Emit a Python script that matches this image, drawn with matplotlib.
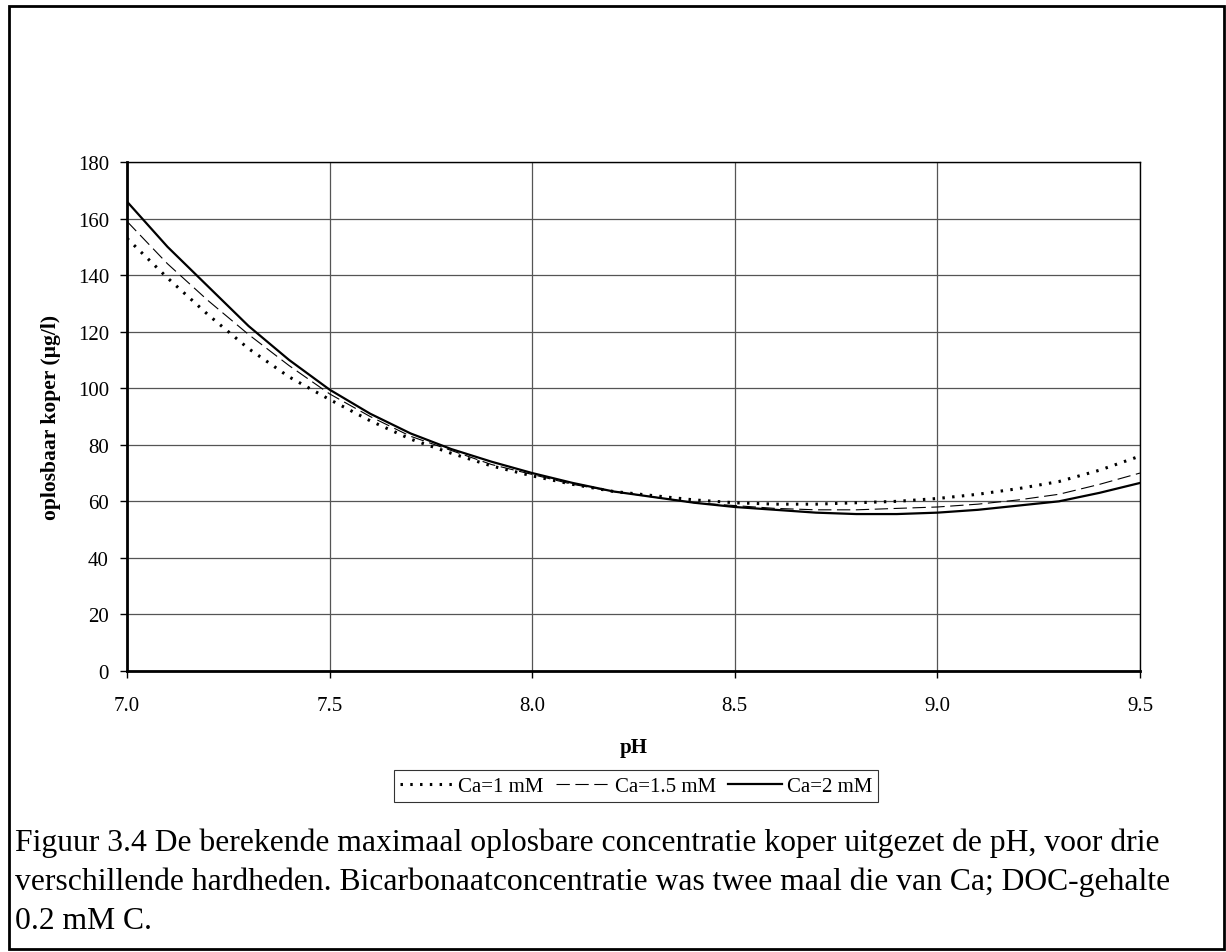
import matplotlib
matplotlib.use("Agg")
import matplotlib.pyplot as plt
from matplotlib.patches import Rectangle

plt.rcParams['font.family'] = ['Liberation Serif', 'DejaVu Serif']

# pH values and dissolved copper (ug/l) for the three hardness levels
ph = [7.0, 7.1, 7.2, 7.3, 7.4, 7.5, 7.6, 7.7, 7.8, 7.9, 8.0, 8.1, 8.2,
      8.3, 8.4, 8.5, 8.6, 8.7, 8.8, 8.9, 9.0, 9.1, 9.2, 9.3, 9.4, 9.5]
ca_1 = [153, 139, 126, 114, 104, 96, 88.5, 82, 77, 72.5, 69, 66, 63.5,
        62, 60.5, 59.5, 59, 59, 59.5, 60, 61, 62.5, 64.5, 67, 71, 76]
ca_15 = [159, 144, 131, 119, 108, 98, 90, 83, 78, 73, 69.5, 66, 63.5,
         61.5, 59.5, 58.5, 57.5, 57, 57, 57.5, 58, 59, 60.5, 62.5, 66, 70]
ca_2 = [166, 150, 136, 122, 110, 99.5, 91, 84, 78.5, 74, 70, 66.5, 63.5,
        61.5, 59.5, 58, 57, 56, 55.5, 55.5, 56, 57, 58.5, 60, 63, 66.5]

labels = ['Ca=1 mM', 'Ca=1.5 mM', 'Ca=2 mM']
x_ticks = [7.0, 7.5, 8.0, 8.5, 9.0, 9.5]
y_ticks = [0, 20, 40, 60, 80, 100, 120, 140, 160, 180]

W, H = 1226, 953
fig = plt.figure(figsize=(W / 100, H / 100), dpi=100)

# plot area in pixel terms
left, right, top, bottom = 127, 1140, 163, 672
ax = fig.add_axes([left / W, 1 - bottom / H, (right - left) / W, (bottom - top) / H])

ax.plot(ph, ca_1, color='black', lw=2.2, linestyle=(0, (0.8, 2.4)), label=labels[0])
ax.plot(ph, ca_15, color='black', lw=0.8, linestyle=(0, (12, 5)), label=labels[1])
ax.plot(ph, ca_2, color='black', lw=1.6, linestyle='-', label=labels[2])

ax.set_xlim(7.0, 9.5)
ax.set_ylim(0, 180)
ax.set_xticks(x_ticks)
ax.set_xticklabels([f'{v:.1f}' for v in x_ticks])
ax.set_yticks(y_ticks)
ax.grid(True, color='#555555', lw=0.9)
ax.set_axisbelow(True)
for s in ['top', 'right']:
    ax.spines[s].set_linewidth(1.0)
for s in ['left', 'bottom']:
    ax.spines[s].set_linewidth(2.0)
ax.tick_params(direction='out', length=5, width=1, labelsize=15, pad=8)
ax.tick_params(axis='x', pad=13)

ax.set_ylabel('oplosbaar koper (µg/l)', fontsize=15.5, fontweight='bold', labelpad=12)
fig.text(634 / W, 1 - 748 / H, 'pH', fontsize=15, fontweight='bold', ha='center', va='center')

leg = fig.legend(loc='center', bbox_to_anchor=(636 / W, 1 - 787 / H), ncol=3,
                 fontsize=15, frameon=True, fancybox=False, edgecolor='black',
                 handlelength=2.6, handletextpad=0.2, columnspacing=0.6,
                 borderpad=0.3, borderaxespad=0)
leg.get_frame().set_linewidth(0.8)

caption = ("Figuur 3.4 De berekende maximaal oplosbare concentratie koper uitgezet de pH, voor drie\n"
           "verschillende hardheden. Bicarbonaatconcentratie was twee maal die van Ca; DOC-gehalte\n"
           "0.2 mM C.")
fig.text(15 / W, 1 - 829 / H, caption, fontsize=22.8, ha='left', va='top', linespacing=1.42)

# outer frame around figure and caption
fig.patches.append(Rectangle((9 / W, 1 - 950 / H), (1224 - 9) / W, (950 - 7) / H,
                             transform=fig.transFigure, fill=False, lw=2, edgecolor='black'))

fig.savefig('out.png', dpi=100)
